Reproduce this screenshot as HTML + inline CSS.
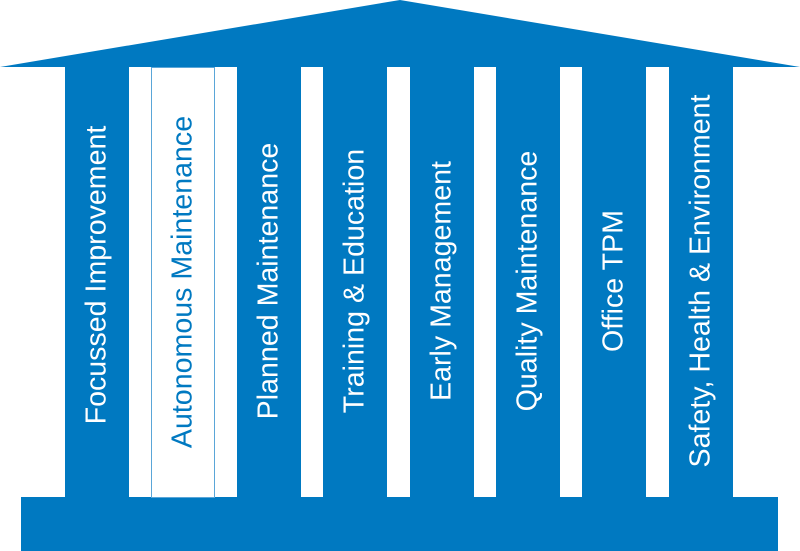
<!DOCTYPE html>
<html><head><meta charset="utf-8"><style>
html,body{margin:0;padding:0;background:#fff;}
body{width:800px;height:551px;position:relative;overflow:hidden;font-family:"Liberation Sans",sans-serif;}
.p{position:absolute;top:66px;height:432px;width:64px;background:#0079c1;}
.t{position:absolute;left:50%;top:215px;transform:translate(-50%,-50%) rotate(-90deg);white-space:nowrap;color:#fff;font-size:28.6px;}
</style></head><body>
<svg width="800" height="551" style="position:absolute;left:0;top:0">
<polygon points="0,67 400,0 800,67" fill="#0079c1"/>
<rect x="21" y="497" width="757" height="54" fill="#0079c1"/>
</svg>
<div class="p" style="left:65px"><div class="t" style="top:209px">Focussed Improvement</div></div>
<div class="p" style="left:151px;background:#fff;border:1px solid #5aa6d8;box-sizing:border-box;height:431px;top:67px"><div class="t" style="color:#0079c1;top:214px">Autonomous Maintenance</div></div>
<div class="p" style="left:237px"><div class="t">Planned Maintenance</div></div>
<div class="p" style="left:323px"><div class="t">Training &amp; Education</div></div>
<div class="p" style="left:410px"><div class="t">Early Management</div></div>
<div class="p" style="left:496px"><div class="t">Quality Maintenance</div></div>
<div class="p" style="left:582px"><div class="t">Office TPM</div></div>
<div class="p" style="left:669px"><div class="t">Safety, Health &amp; Environment</div></div>
</body></html>
